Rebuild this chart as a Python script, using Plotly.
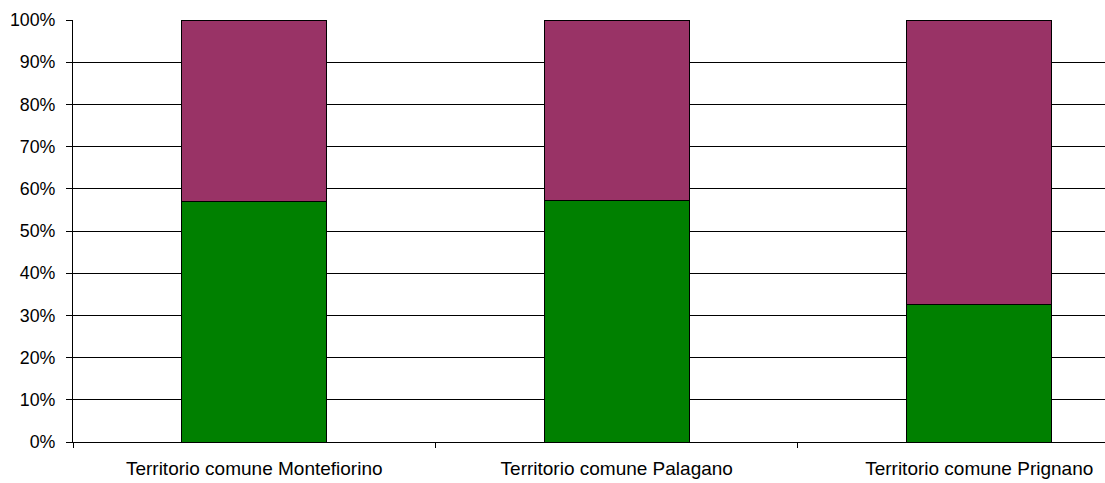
import plotly.graph_objects as go

categories = ["Territorio comune Montefiorino", "Territorio comune Palagano", "Territorio comune Prignano"]
green_share = [57.0, 57.3, 32.7]
maroon_share = [43.0, 42.7, 67.3]
y_ticks = [0, 10, 20, 30, 40, 50, 60, 70, 80, 90, 100]

fig = go.Figure()
fig.add_trace(go.Bar(x=categories, y=green_share, marker=dict(color="#008000", line=dict(color="black", width=1)), width=0.4, showlegend=False))
fig.add_trace(go.Bar(x=categories, y=maroon_share, marker=dict(color="#993366", line=dict(color="black", width=1)), width=0.4, showlegend=False))

fig.update_layout(
    barmode="stack",
    width=1105, height=483,
    margin=dict(l=73, r=0, t=20, b=41),
    plot_bgcolor="white", paper_bgcolor="white",
    font=dict(family="Liberation Sans, Arial, sans-serif", size=18, color="black"),
)
fig.update_xaxes(
    type="category", range=[-0.5, 2.347], tickson="boundaries",
    ticks="outside", ticklen=5, tickcolor="black", tickwidth=1,
    showline=True, linecolor="black", linewidth=1, showgrid=False,
    tickfont=dict(size=19), ticklabelstandoff=9,
)
fig.update_yaxes(
    range=[0, 100], tickvals=y_ticks, ticktext=[f"{v}%" for v in y_ticks],
    ticks="outside", ticklen=6, tickcolor="black", tickwidth=1,
    showline=True, linecolor="black", linewidth=1,
    showgrid=True, gridcolor="black", gridwidth=1, zeroline=False,
    tickfont=dict(size=17.8), ticklabelstandoff=7,
)
fig.write_html("out.html")
